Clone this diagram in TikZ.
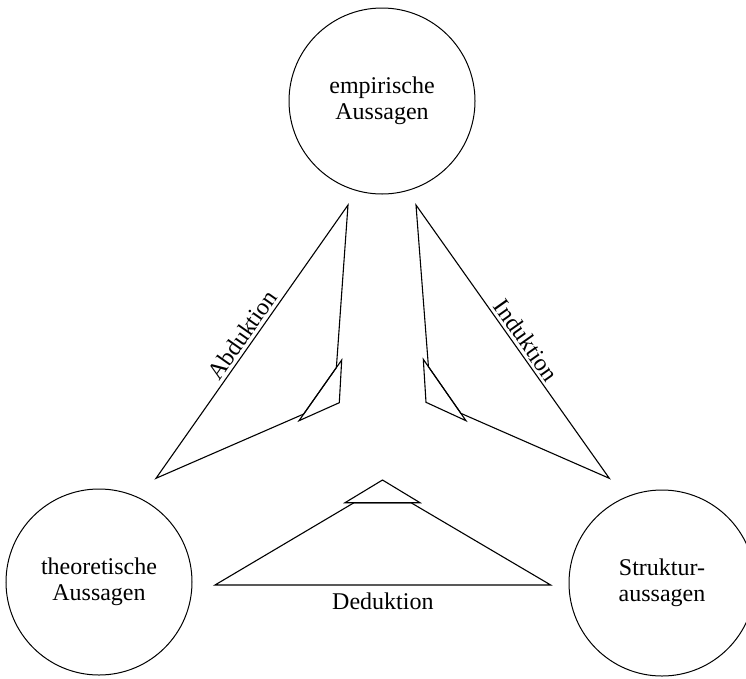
\documentclass[tikz,border=0pt]{standalone}
\usepackage{fontspec}
\setmainfont{Liberation Serif}
\usetikzlibrary{calc}
\begin{document}
\begin{tikzpicture}[x=1pt,y=-1pt,line width=1.1pt,line join=miter,
  aussage/.style={circle,draw,line width=1pt,minimum size=186pt,inner sep=0pt,align=center,
    font=\fontsize{24pt}{26pt}\selectfont},
  lab/.style={font=\fontsize{24pt}{26pt}\selectfont,inner sep=3pt},
  wedge/.style={draw}]
\useasboundingbox (0,0) rectangle (746,678);
\clip (0,0) rectangle (746,678);
% statements
\node[aussage] (emp) at (382,101) {empirische\\Aussagen};
\node[aussage] (theo) at (99,582) {theoretische\\Aussagen};
\node[aussage] (struk) at (662,583) {Struktur-\\aussagen};
% Abduktion
\coordinate (aA) at (348,205);
\coordinate (aG) at (156,478.3);
\coordinate (aC) at (341.7,360);
\coordinate (aD) at (339.3,402.7);
\coordinate (aE) at (299,420.7);
\coordinate (aB) at ($(aC)!0.125!(aE)$);
\coordinate (aF) at ($(aC)!0.89!(aE)$);
\draw[wedge] (aA) -- (aB) -- (aF) -- (aG) -- cycle;
\draw[wedge] (aC) -- (aD) -- (aE) -- cycle;
\path (aG) -- (aA) node[lab,pos=0.5,sloped,above] {Abduktion};
% Induktion
\coordinate (iA) at (416,205);
\coordinate (iG) at (609.3,478.3);
\coordinate (iC) at (423.3,359.3);
\coordinate (iD) at (426,402.3);
\coordinate (iE) at (466,420.7);
\coordinate (iB) at ($(iC)!0.12!(iE)$);
\coordinate (iF) at ($(iC)!0.88!(iE)$);
\draw[wedge] (iA) -- (iB) -- (iF) -- (iG) -- cycle;
\draw[wedge] (iC) -- (iD) -- (iE) -- cycle;
\path (iA) -- (iG) node[lab,pos=0.52,sloped,above] {Induktion};
% Deduktion
\coordinate (dL) at (215,585);
\coordinate (dR) at (550.7,585);
\coordinate (dT) at (382.5,480);
\coordinate (dHL) at (345,502.7);
\coordinate (dHR) at (420,502.7);
\coordinate (dSL) at (354,502.7);
\coordinate (dSR) at (411,502.7);
\draw[wedge] (dL) -- (dSL) -- (dSR) -- (dR) -- cycle;
\draw[wedge] (dT) -- (dHL) -- (dHR) -- cycle;
\path (dL) -- (dR) node[lab,midway,anchor=base,yshift=-24pt] {Deduktion};
\end{tikzpicture}
\end{document}
